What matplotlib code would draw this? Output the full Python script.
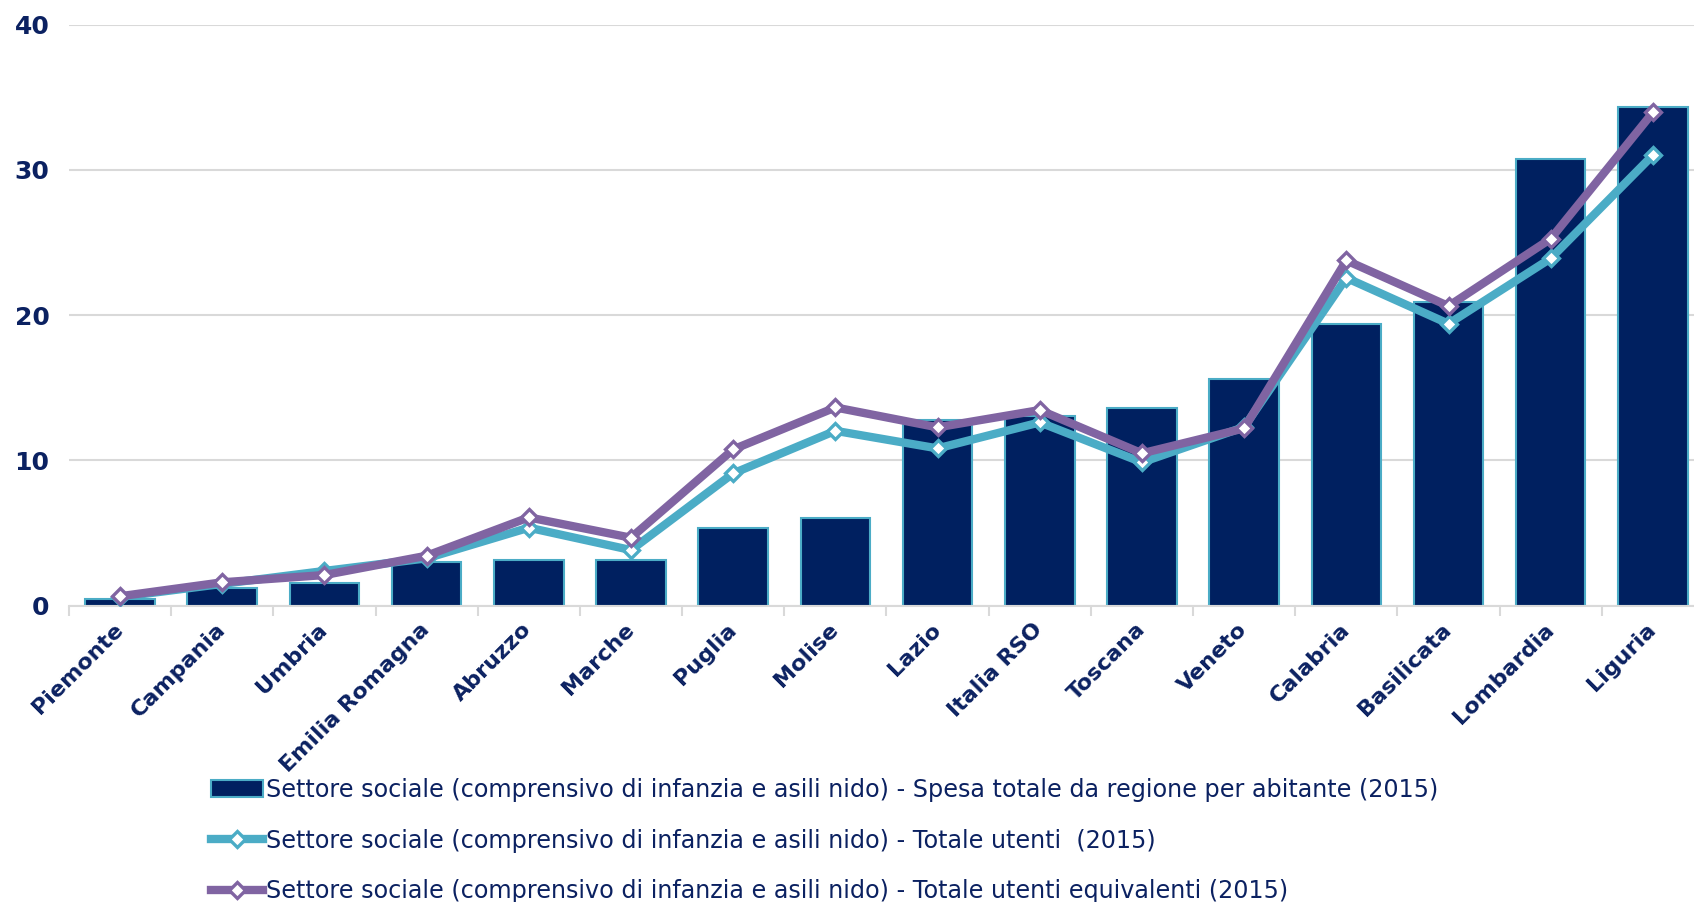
import matplotlib
matplotlib.use("Agg")
import matplotlib.pyplot as plt
from matplotlib.lines import Line2D
from matplotlib.patches import Patch
import numpy as np

regioni = ["Piemonte", "Campania", "Umbria", "Emilia Romagna", "Abruzzo",
           "Marche", "Puglia", "Molise", "Lazio", "Italia RSO", "Toscana",
           "Veneto", "Calabria", "Basilicata", "Lombardia", "Liguria"]
spesa = [0.46, 1.24, 1.54, 3.03, 3.14, 3.14, 5.33, 6.01, 12.78, 13.06,
         13.58, 15.6, 19.39, 20.9, 30.74, 34.35]
utenti = [0.6, 1.5, 2.39, 3.26, 5.37, 3.83, 9.11, 12.04, 10.83, 12.62,
          9.87, 12.3, 22.57, 19.41, 23.91, 31.02]
utenti_eq = [0.65, 1.61, 2.11, 3.44, 6.08, 4.68, 10.76, 13.65, 12.28, 13.47,
             10.49, 12.21, 23.77, 20.63, 25.26, 33.96]

lab_bar = ("Settore sociale (comprensivo di infanzia e asili nido) - "
           "Spesa totale da regione per abitante (2015)")
lab_ut = ("Settore sociale (comprensivo di infanzia e asili nido) - "
          "Totale utenti  (2015)")
lab_eq = ("Settore sociale (comprensivo di infanzia e asili nido) - "
          "Totale utenti equivalenti (2015)")

NAVY = "#002060"
TEAL = "#4BACC6"
VIOLA = "#8064A2"
GRID = "#D9D9D9"
TXT = "#0B2161"

fig = plt.figure(figsize=(16.94, 9.02), dpi=100)
ax = fig.add_axes([0.0407, 0.3285, 0.9652, 0.6441])

x = np.arange(len(regioni))
ax.bar(x, spesa, width=0.68, color=NAVY, edgecolor=TEAL, linewidth=1.5, zorder=2)
ax.plot(x, utenti, color=TEAL, lw=6, marker="D", ms=8, mfc="white",
        mec=TEAL, mew=2.4, zorder=3)
ax.plot(x, utenti_eq, color=VIOLA, lw=6, marker="D", ms=8, mfc="white",
        mec=VIOLA, mew=2.4, zorder=4)

ax.set_xlim(-0.5, len(regioni) - 0.5)
ax.set_ylim(0, 40)
ax.set_yticks([0, 10, 20, 30, 40])
ax.yaxis.grid(True, color=GRID, lw=1.5, zorder=0)
ax.set_axisbelow(True)
for s in ["left", "right", "top"]:
    ax.spines[s].set_visible(False)
ax.spines["bottom"].set_color(GRID)
ax.spines["bottom"].set_linewidth(1.5)

ax.tick_params(axis="y", length=0, pad=14, labelsize=18, labelcolor=TXT)
for t in ax.get_yticklabels():
    t.set_fontweight("bold")

ax.set_xticks(x)
ax.set_xticks(np.arange(-0.5, len(regioni), 1.0), minor=True)
ax.tick_params(axis="x", which="major", length=0, pad=15)
ax.tick_params(axis="x", which="minor", length=7, width=1.5, color=GRID)
ax.set_xticklabels(regioni, rotation=45, ha="right", va="center",
                   rotation_mode="anchor", fontsize=16, fontweight="bold",
                   color=TXT)

handles = [
    Patch(facecolor=NAVY, edgecolor=TEAL, linewidth=1.5),
    Line2D([], [], color=TEAL, lw=6, marker="D", ms=8, mfc="white",
           mec=TEAL, mew=2.4),
    Line2D([], [], color=VIOLA, lw=6, marker="D", ms=8, mfc="white",
           mec=VIOLA, mew=2.4),
]
leg = fig.legend(handles, [lab_bar, lab_ut, lab_eq], loc="center left",
                 bbox_to_anchor=(0.1246, 0.068), frameon=False, fontsize=17.2,
                 handlelength=2.18, handletextpad=0.13, labelspacing=1.11,
                 borderpad=0, borderaxespad=0)
for t in leg.get_texts():
    t.set_color(TXT)

fig.savefig("out.png", dpi=100)
